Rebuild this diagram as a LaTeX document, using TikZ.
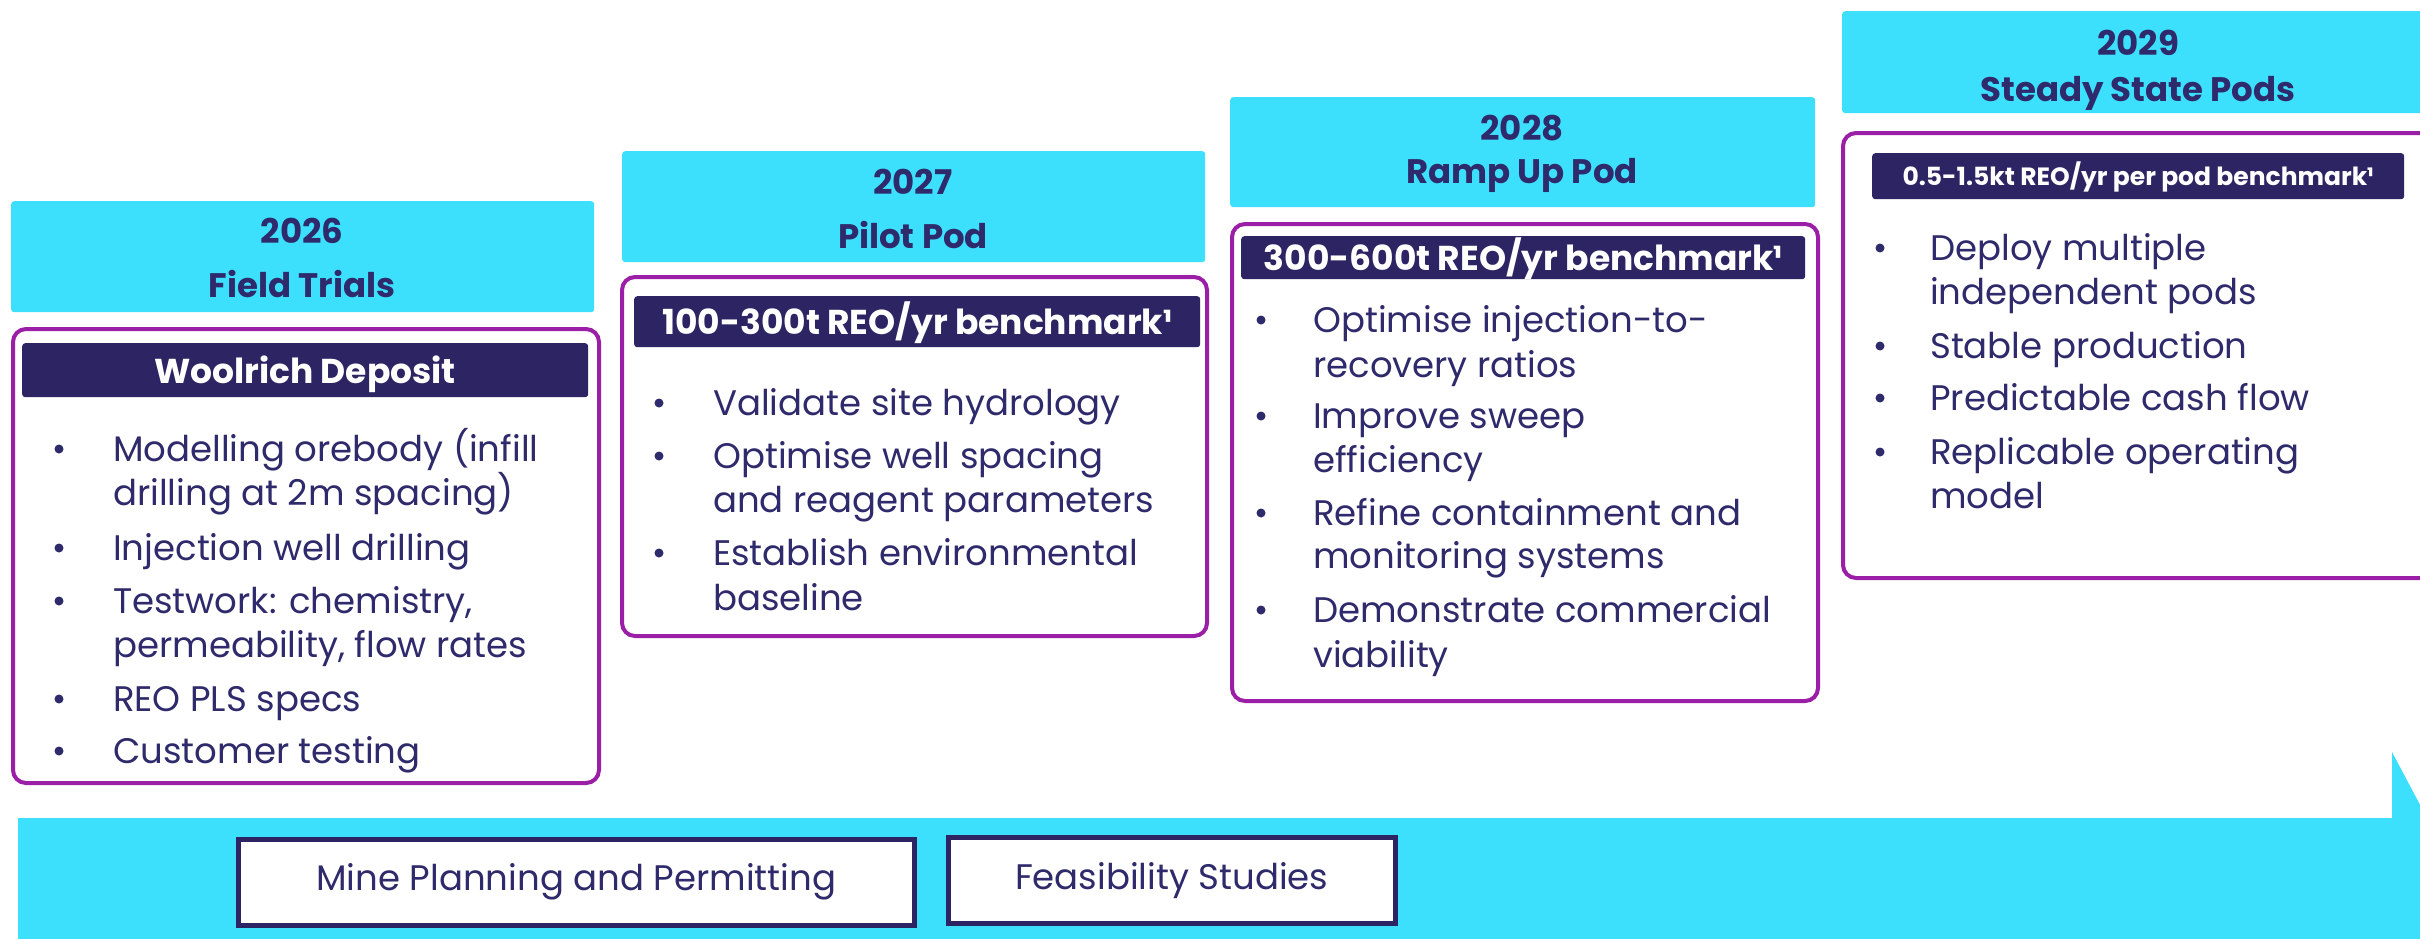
\documentclass[tikz,border=0pt]{standalone}
\usepackage{fontspec}
\setmainfont{Poppins}
\definecolor{cyanbar}{HTML}{3DE0FC}
\definecolor{navy}{HTML}{2D2563}
\definecolor{navytxt}{HTML}{2E2A6B}
\definecolor{purp}{HTML}{9A1FA6}
\tikzset{
  hdr/.style={fill=cyanbar, rounded corners=3pt, inner sep=0pt, anchor=north west},
  hdrtxt/.style={text=navytxt, font=\fontsize{34}{40}\selectfont\bfseries, inner sep=0pt, anchor=base},
  body/.style={draw=purp, line width=4pt, rounded corners=13pt, fill=white, inner sep=0pt, anchor=north west},
  band/.style={fill=navy, rounded corners=3pt, inner sep=0pt, anchor=north west},
  bandtxt/.style={text=white, font=\fontsize{34.5}{38}\selectfont\bfseries, inner sep=0pt, anchor=base},
  bul/.style={circle, fill=navytxt, minimum size=9pt, inner sep=0pt},
  ltxt/.style={text=navytxt, font=\fontsize{35.5}{44}\selectfont, inner sep=0pt, anchor=base west},
  botbox/.style={draw=navy, line width=4.5pt, fill=white, inner sep=0pt, anchor=north west},
  bottxt/.style={text=navytxt, font=\fontsize{35.5}{40}\selectfont, inner sep=0pt},
}
\newcommand\Bul[3]{\node[bul] (#1) at (#2,#3-12) {};}
\begin{document}
\begin{tikzpicture}[x=1pt,y=-1pt]
\useasboundingbox (0,0) rectangle (2420,938);
\begin{scope}
\clip (0,0) rectangle (2420,938);
% ---------- bottom arrow bar
\fill[cyanbar] (18,818) -- (2392,818) -- (2392,752) -- (2452,865) -- (2452,950) -- (18,950) -- cycle;
\node[botbox, minimum width=676, minimum height=86] (mp) at (236,837) {};
\node[bottxt] (mpt) at (mp.center) {Mine Planning and Permitting};
\node[botbox, minimum width=447, minimum height=86] (fs) at (946,835) {};
\node[bottxt] (fst) at (fs.center) {Feasibility Studies};

% ---------- Box 1
\node[hdr, minimum width=583, minimum height=111] (h1) at (11,201) {};
\node[hdrtxt] (h1y) at (302,243) {2026};
\node[hdrtxt] (h1t) at (302,297) {Field Trials};
\node[body, minimum width=586, minimum height=454] (b1) at (11,327) {};
\node[band, minimum width=566, minimum height=54] (d1) at (22,343) {};
\node[bandtxt] (d1t) at (305,383) {Woolrich Deposit};
\Bul{p1a}{59}{461}
\node[ltxt] (t1a) at (113,461) {Modelling orebody (infill};
\node[ltxt] (t1b) at (113,505) {drilling at 2m spacing)};
\Bul{p1b}{59}{560}
\node[ltxt] (t1c) at (113,560) {Injection well drilling};
\Bul{p1c}{59}{613}
\node[ltxt] (t1d) at (113,613) {Testwork: chemistry,};
\node[ltxt] (t1e) at (113,657) {permeability, flow rates};
\Bul{p1d}{59}{711}
\node[ltxt] (t1f) at (113,711) {REO PLS specs};
\Bul{p1e}{59}{763}
\node[ltxt] (t1g) at (113,763) {Customer testing};

% ---------- Box 2
\node[hdr, minimum width=583, minimum height=111] (h2) at (622,151) {};
\node[hdrtxt] (h2y) at (913,194) {2027};
\node[hdrtxt] (h2t) at (913,248) {Pilot Pod};
\node[body, minimum width=585, minimum height=359] (b2) at (620,275) {};
\node[band, minimum width=566, minimum height=51] (d2) at (634,296) {};
\node[bandtxt] (d2t) at (917,334) {100-300t REO/yr benchmark¹};
\Bul{p2a}{659}{415}
\node[ltxt] (t2a) at (713,415) {Validate site hydrology};
\Bul{p2b}{659}{468}
\node[ltxt] (t2b) at (713,468) {Optimise well spacing};
\node[ltxt] (t2c) at (713,512) {and reagent parameters};
\Bul{p2c}{659}{565}
\node[ltxt] (t2d) at (713,565) {Establish environmental};
\node[ltxt] (t2e) at (713,610) {baseline};

% ---------- Box 3
\node[hdr, minimum width=585, minimum height=110] (h3) at (1230,97) {};
\node[hdrtxt] (h3y) at (1522,140) {2028};
\node[hdrtxt] (h3t) at (1522,183) {Ramp Up Pod};
\node[body, minimum width=586, minimum height=477] (b3) at (1230,222) {};
\node[band, minimum width=564, minimum height=43] (d3) at (1241,236) {};
\node[bandtxt] (d3t) at (1523,270) {300-600t REO/yr benchmark¹};
\Bul{p3a}{1261}{332}
\node[ltxt] (t3a) at (1313,332) {Optimise injection-to-};
\node[ltxt] (t3b) at (1313,377) {recovery ratios};
\Bul{p3b}{1261}{428}
\node[ltxt] (t3c) at (1313,428) {Improve sweep};
\node[ltxt] (t3d) at (1313,472) {efficiency};
\Bul{p3c}{1261}{525}
\node[ltxt] (t3e) at (1313,525) {Refine containment and};
\node[ltxt] (t3f) at (1313,568) {monitoring systems};
\Bul{p3d}{1261}{622}
\node[ltxt] (t3g) at (1313,622) {Demonstrate commercial};
\node[ltxt] (t3h) at (1313,667) {viability};

% ---------- Box 4
\node[hdr, minimum width=600, minimum height=102] (h4) at (1842,11) {};
\node[hdrtxt] (h4y) at (2138,55) {2029};
\node[hdrtxt] (h4t) at (2138,101) {Steady State Pods};
\node[body, minimum width=600, minimum height=445] (b4) at (1841,131) {};
\node[band, minimum width=532, minimum height=46] (d4) at (1872,153) {};
\node[bandtxt, font=\fontsize{25}{28}\selectfont\bfseries] (d4t) at (2138,185) {0.5-1.5kt REO/yr per pod benchmark¹};
\Bul{p4a}{1880}{260}
\node[ltxt] (t4a) at (1930,260) {Deploy multiple};
\node[ltxt] (t4b) at (1930,304) {independent pods};
\Bul{p4b}{1880}{358}
\node[ltxt] (t4c) at (1930,358) {Stable production};
\Bul{p4c}{1880}{410}
\node[ltxt] (t4d) at (1930,410) {Predictable cash flow};
\Bul{p4d}{1880}{464}
\node[ltxt] (t4e) at (1930,464) {Replicable operating};
\node[ltxt] (t4f) at (1930,508) {model};
\end{scope}
\end{tikzpicture}
\end{document}
